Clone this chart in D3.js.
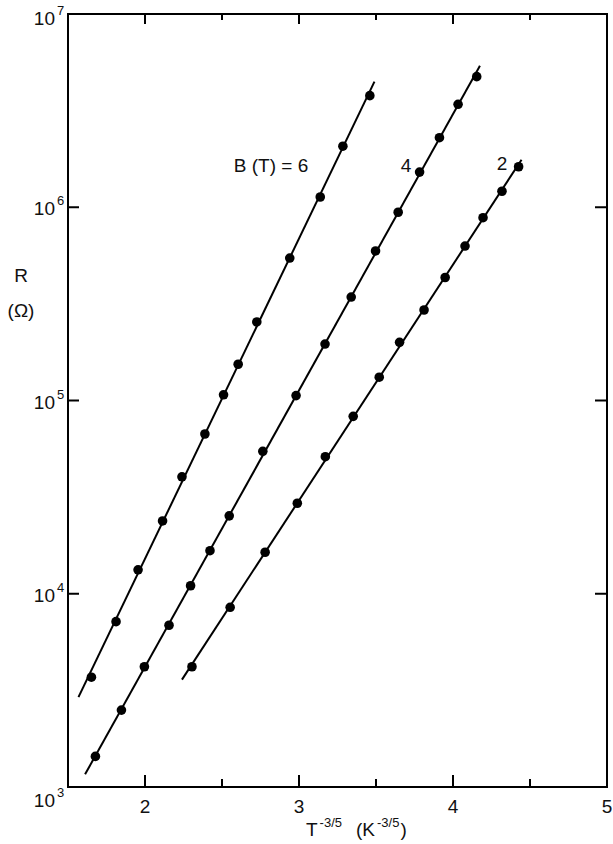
<!DOCTYPE html>
<html>
<head>
<meta charset="utf-8">
<script src="https://cdn.jsdelivr.net/npm/d3@7/dist/d3.min.js"></script>
<style>
  html, body { margin: 0; padding: 0; background: #fff; }
  svg { display: block; }
  text { font-family: "Liberation Sans", Arial, sans-serif; fill: #111; }
</style>
</head>
<body>
<svg id="chart" width="613" height="844"></svg>
<script>
// Resistance R (ohm) vs T^(-3/5) at three magnetic fields
const fields = ["6", "4", "2"];

const xB6 = [1.652, 1.812, 1.955, 2.114, 2.240, 2.389, 2.510, 2.605, 2.726, 2.940, 3.138, 3.285, 3.460];
const rB6 = [3.70e3, 7.17e3, 1.33e4, 2.38e4, 4.03e4, 6.71e4, 1.07e5, 1.54e5, 2.55e5, 5.46e5, 1.13e6, 2.07e6, 3.78e6];

const xB4 = [1.678, 1.847, 1.996, 2.156, 2.296, 2.422, 2.547, 2.765, 2.981, 3.169, 3.339, 3.497, 3.644, 3.783, 3.912, 4.033, 4.154];
const rB4 = [1.44e3, 2.50e3, 4.19e3, 6.87e3, 1.10e4, 1.67e4, 2.53e4, 5.46e4, 1.06e5, 1.96e5, 3.43e5, 5.94e5, 9.42e5, 1.52e6, 2.29e6, 3.41e6, 4.74e6];

const xB2 = [2.305, 2.553, 2.780, 2.989, 3.171, 3.352, 3.521, 3.653, 3.812, 3.949, 4.078, 4.195, 4.318, 4.426];
const rB2 = [4.19e3, 8.51e3, 1.64e4, 2.94e4, 5.12e4, 8.28e4, 1.32e5, 2.00e5, 2.94e5, 4.33e5, 6.30e5, 8.83e5, 1.21e6, 1.62e6];

// x-extent of each fitted straight line
const fitStart = [1.568, 1.611, 2.240];
const fitEnd = [3.49, 4.175, 4.445];

const xTicksMajor = [2, 3, 4, 5];
const xTicksMinor = [2.5, 3.5, 4.5];
const yTickExps = [3, 4, 5, 6, 7];

const seriesX = [xB6, xB4, xB2];
const seriesR = [rB6, rB4, rB2];

const svg = d3.select("#chart");
const plotLeft = 68, plotRight = 607, plotTop = 14, plotBottom = 787;

const x = d3.scaleLinear().domain([1.5, 5]).range([plotLeft, plotRight]);
const y = d3.scaleLog().domain([1e3, 1e7]).range([plotBottom, plotTop]);

// least-squares fit of log10(R) against x
function fit(xs, rs) {
  const ls = rs.map(r => Math.log10(r));
  const n = xs.length, mx = d3.mean(xs), ml = d3.mean(ls);
  let sxy = 0, sxx = 0;
  for (let i = 0; i < n; i++) { sxy += (xs[i] - mx) * (ls[i] - ml); sxx += (xs[i] - mx) ** 2; }
  const b = sxy / sxx;
  return v => Math.pow(10, ml + b * (v - mx));
}

const g = svg.append("g");

// fitted lines
seriesX.forEach((xs, i) => {
  const f = fit(xs, seriesR[i]);
  const pts = [fitStart[i], fitEnd[i]].map(v => [x(v), y(f(v))]);
  g.append("path")
    .attr("d", d3.line()(pts))
    .attr("fill", "none").attr("stroke", "#000").attr("stroke-width", 2);
});

// data points
seriesX.forEach((xs, i) => {
  g.selectAll(null).data(xs.map((v, j) => [v, seriesR[i][j]])).enter()
    .append("circle")
    .attr("cx", d => x(d[0])).attr("cy", d => y(d[1]))
    .attr("r", 4.8).attr("fill", "#000");
});

// frame
svg.append("rect")
  .attr("x", plotLeft).attr("y", plotTop)
  .attr("width", plotRight - plotLeft).attr("height", plotBottom - plotTop)
  .attr("fill", "none").attr("stroke", "#000").attr("stroke-width", 2);

// x ticks on bottom and top, pointing inward
const xTicks = xTicksMajor.filter(v => v < 5).map(v => [v, 12]).concat(xTicksMinor.map(v => [v, 8]));
xTicks.forEach(([v, len]) => {
  svg.append("line").attr("x1", x(v)).attr("x2", x(v)).attr("y1", plotBottom).attr("y2", plotBottom - len)
    .attr("stroke", "#000").attr("stroke-width", 2);
  svg.append("line").attr("x1", x(v)).attr("x2", x(v)).attr("y1", plotTop).attr("y2", plotTop + len - 2)
    .attr("stroke", "#000").attr("stroke-width", 2);
});

// y ticks on both sides, pointing inward
yTickExps.filter(e => e > 3 && e < 7).forEach(e => {
  const yy = y(Math.pow(10, e));
  svg.append("line").attr("x1", plotLeft).attr("x2", plotLeft + 11).attr("y1", yy).attr("y2", yy)
    .attr("stroke", "#000").attr("stroke-width", 2);
  svg.append("line").attr("x1", plotRight).attr("x2", plotRight - 12).attr("y1", yy).attr("y2", yy)
    .attr("stroke", "#000").attr("stroke-width", 2);
});

// x tick labels
xTicksMajor.forEach(v => {
  svg.append("text").attr("x", x(v)).attr("y", 813)
    .attr("text-anchor", "middle").attr("font-size", 19).text(v);
});

// y tick labels: 10 with superscript exponent
yTickExps.forEach(e => {
  const yy = y(Math.pow(10, e));
  const base = yy + (e === 7 ? 11 : e === 3 ? 20 : 8);
  svg.append("text").attr("x", 55).attr("y", base)
    .attr("text-anchor", "end").attr("font-size", 19).text("10");
  svg.append("text").attr("x", 57).attr("y", base - 10)
    .attr("font-size", 13).text(e);
});

// y axis title
svg.append("text").attr("x", 21).attr("y", 282).attr("text-anchor", "middle").attr("font-size", 19).text("R");
svg.append("text").attr("x", 21).attr("y", 317).attr("text-anchor", "middle").attr("font-size", 19).text("(Ω)");

// x axis title
const xt = svg.append("text").attr("x", 306).attr("y", 836).attr("font-size", 19);
xt.append("tspan").text("T");
xt.append("tspan").attr("font-size", 13).attr("dy", -9).attr("dx", 2).text("-3/5");
xt.append("tspan").attr("dy", 9).attr("dx", 14).text("(K");
xt.append("tspan").attr("font-size", 13).attr("dy", -9).attr("dx", 2).text("-3/5");
xt.append("tspan").attr("dy", 9).attr("dx", 1).text(")");

// series labels
const labelPos = [[271, 172, "B (T) = 6"], [406, 172, fields[1]], [502, 170, fields[2]]];
labelPos.forEach(([lx, ly, t]) => {
  svg.append("text").attr("x", lx).attr("y", ly).attr("text-anchor", "middle")
    .attr("font-size", 19).text(t);
});
</script>
</body>
</html>
